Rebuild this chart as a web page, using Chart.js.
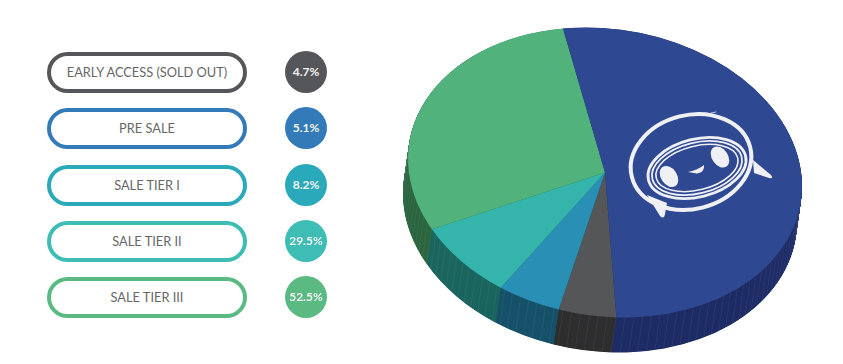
<!DOCTYPE html>
<html><head><meta charset="utf-8">
<style>
html,body{margin:0;padding:0;background:#fff;width:843px;height:364px;overflow:hidden}
#wrap{position:relative;width:843px;height:364px}
canvas{position:absolute;left:0;top:0}
.pill{position:absolute;left:47px;width:200px;height:41px;box-sizing:border-box;border-radius:21px;border:4px solid;background:#fff;
 font:400 12.8px/33px Lato,sans-serif;color:#666;text-align:center}
.dot{position:absolute;left:285px;width:42px;height:42px;border-radius:50%;
 font:700 12px/42px Lato,sans-serif;text-align:center;color:#f2f4f4}
</style>
<script src="https://cdn.jsdelivr.net/npm/chart.js@4/dist/chart.umd.min.js"></script>
</head><body><div id="wrap"><canvas id="c" width="843" height="364"></canvas></div>
<script>
const categories=["EARLY ACCESS (SOLD OUT)","PRE SALE","SALE TIER I","SALE TIER II","SALE TIER III"];
const shares=[4.7,5.1,8.2,29.5,52.5];
const legendColors=["#555659","#337ab9","#2aa9bb","#3dbdb3","#5aba82"];
const topColors=["#555658","#2a8fb4","#35b4ab","#52b27b","#2f4892"];
const wallColors=["#2f2f30","#17526a","#1b655f","#2c6640","#1f2d66"];
const rowTops=[52,108,165,221,277];

const wrap=document.getElementById('wrap');
categories.forEach((name,i)=>{
  const p=document.createElement('div');p.className='pill';p.textContent=name;
  p.style.top=rowTops[i]+'px';p.style.borderColor=legendColors[i];wrap.appendChild(p);
  const d=document.createElement('div');d.className='dot';d.textContent=shares[i].toFixed(1)+'%';
  d.style.top=(rowTops[i]-1)+'px';d.style.background=legendColors[i];wrap.appendChild(d);
});

const CX=605,CY=172.5,RX=198,RY=143.6,TILT=8.5*Math.PI/180,DX=-5,DY=35;
function place(ctx,arc,dx,dy){
  ctx.translate(CX+dx,CY+dy);ctx.rotate(TILT);
  ctx.scale(RX/arc.outerRadius,RY/arc.outerRadius);ctx.translate(-arc.x,-arc.y);
}
function drawLogo(ctx){
  ctx.save();ctx.strokeStyle='#eef0f4';ctx.fillStyle='#eef0f4';ctx.lineCap='round';
  const ring=(x,y,rx,ry,a,w)=>{ctx.lineWidth=w;ctx.beginPath();ctx.ellipse(x,y,rx,ry,a,0,Math.PI*2);ctx.stroke();};
  const blob=(x,y,rx,ry,a)=>{ctx.beginPath();ctx.ellipse(x,y,rx,ry,a,0,Math.PI*2);ctx.fill();};
  const tilt=-14*Math.PI/180;
  ring(691,162,61,47,tilt,4);
  ring(697,168,50,29,tilt,2.8);ring(697,168,46,25.5,tilt,1.8);ring(697,168,42,22,tilt,1.6);
  blob(669,176.5,8,11.5,-0.6);blob(720,157,8,11.5,-0.6);
  ctx.beginPath();ctx.moveTo(688,172);ctx.quadraticCurveTo(698,170,704,165);ctx.quadraticCurveTo(705,172,697,173.5);ctx.closePath();ctx.fill();
  ctx.beginPath();ctx.moveTo(647,195);ctx.lineTo(660,216);ctx.quadraticCurveTo(664,220,665,214);ctx.lineTo(667,203);ctx.closePath();ctx.fill();
  ctx.beginPath();ctx.moveTo(753,160);ctx.lineTo(771,175);ctx.quadraticCurveTo(774,179,769,178);ctx.lineTo(754,173);ctx.closePath();ctx.fill();
  ctx.lineWidth=.7;ctx.beginPath();ctx.moveTo(711,113);ctx.lineTo(716,112);ctx.stroke();
  ctx.restore();
}
const pie3d={
  id:'pie3d',
  beforeDatasetsDraw(chart){
    const ctx=chart.ctx,arcs=chart.getDatasetMeta(0).data;
    for(let s=1;s>0;s-=0.012){
      ctx.save();place(ctx,arcs[0],DX*s,DY*s);
      arcs.forEach((arc,i)=>{
        const o={backgroundColor:wallColors[i],borderColor:wallColors[i],borderWidth:0,spacing:0,offset:0,borderRadius:0,circular:true,borderAlign:'center'};
        Object.create(arc,{options:{value:o}}).draw(ctx);
      });
      ctx.restore();
    }
    ctx.save();ctx.strokeStyle='rgba(255,255,255,.05)';ctx.lineWidth=1;
    for(let t=0;t<190;t+=2.6){
      const a=t*Math.PI/180,x=RX*Math.cos(a),y=RY*Math.sin(a);
      const sx=CX+x*Math.cos(TILT)-y*Math.sin(TILT),sy=CY+x*Math.sin(TILT)+y*Math.cos(TILT);
      ctx.beginPath();ctx.moveTo(sx,sy);ctx.lineTo(sx+DX,sy+DY);ctx.stroke();
    }
    ctx.restore();
    ctx.save();place(ctx,arcs[0],0,0);
  },
  afterDatasetsDraw(chart){chart.ctx.restore();drawLogo(chart.ctx);}
};
new Chart(document.getElementById('c'),{
  type:'pie',
  data:{labels:categories,datasets:[{data:shares,backgroundColor:topColors,borderWidth:0}]},
  options:{responsive:false,animation:false,devicePixelRatio:1,rotation:170.5,
    layout:{padding:0},plugins:{legend:{display:false},tooltip:{enabled:false}}},
  plugins:[pie3d]
});
</script></body></html>
